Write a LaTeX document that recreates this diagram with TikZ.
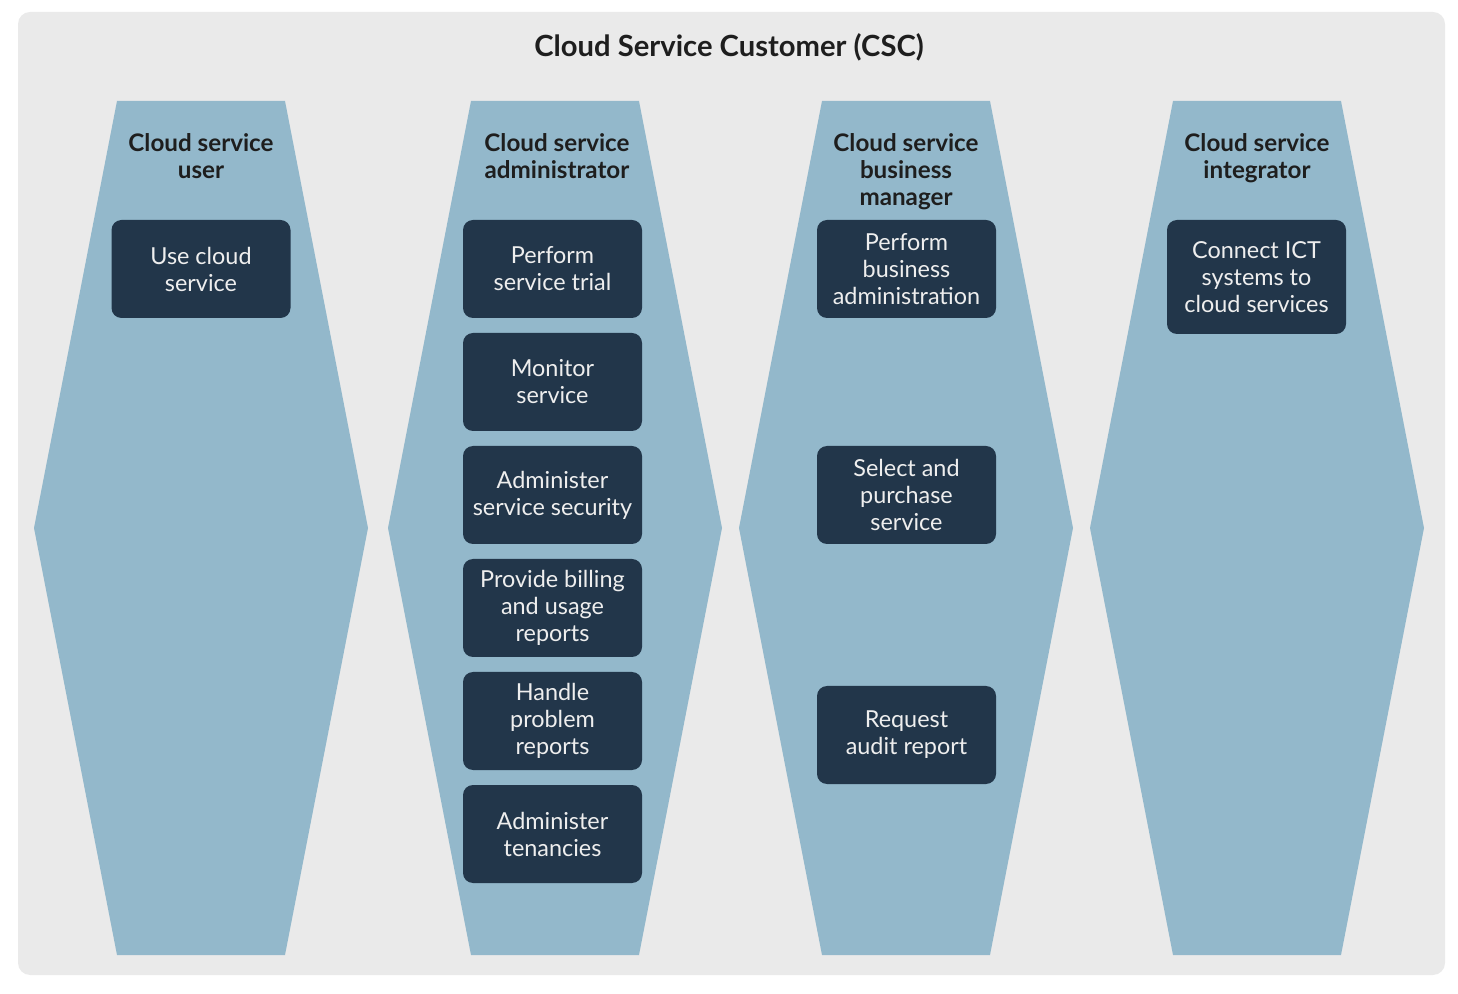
\documentclass[tikz,border=0pt]{standalone}
\usepackage{fontspec}
\setmainfont{Lato}
\usetikzlibrary{positioning}

\definecolor{bgGray}{HTML}{EAEAEA}
\definecolor{hexBlue}{HTML}{93B8CB}
\definecolor{boxNavy}{HTML}{22364A}
\definecolor{boxText}{HTML}{EEEEEE}
\definecolor{headText}{HTML}{1E1E1E}

\begin{document}
\begin{tikzpicture}[x=0.5pt,y=-0.5pt,node distance=56.5pt,on grid]
  % Styles for the role headings and the activity boxes
  \tikzstyle{nodeTitle}=[font=\fontsize{14.6}{17}\selectfont\bfseries,text=headText]
  \tikzstyle{nodeHead}=[anchor=north,align=center,inner sep=0pt,font=\fontsize{12.1}{13.5}\selectfont\bfseries,text=headText]
  \tikzstyle{nodeBox}=[rectangle,rounded corners=5pt,fill=boxNavy,text=boxText,align=center,minimum width=89.5pt,minimum height=49pt,inner sep=2pt,font=\fontsize{11.7}{13.5}\selectfont]

  \useasboundingbox (0,0) rectangle (1458,994);
  \fill[bgGray, rounded corners=6pt] (18,12) rectangle (1445,975);

  % Hexagon columns
  \foreach \cx in {201,555,906,1257}
    \fill[hexBlue] (\cx-84,101) -- (\cx+84,101) -- (\cx+167,528) -- (\cx+84,955)
      -- (\cx-84,955) -- (\cx-167,528) -- cycle;

  \node[nodeTitle] (title) at (729,47) {Cloud Service Customer (CSC)};

  \node[nodeHead] (h_user)  at (201,133)  {Cloud service\\user};
  \node[nodeHead] (h_admin) at (557,133)  {Cloud service\\administrator};
  \node[nodeHead] (h_biz)   at (906,133)  {Cloud service\\business\\manager};
  \node[nodeHead] (h_integ) at (1257,133) {Cloud service\\integrator};

  \node[nodeBox] (b_use) at (201,269) {Use cloud\\service};

  \node[nodeBox] (b_trial)    at (552.5,269)       {Perform\\service trial};
  \node[nodeBox] (b_monitor)  [below=of b_trial]   {Monitor\\service};
  \node[nodeBox] (b_security) [below=of b_monitor] {Administer\\service security};
  \node[nodeBox] (b_billing)  [below=of b_security] {Provide billing\\and usage\\reports};
  \node[nodeBox] (b_problem)  [below=of b_billing] {Handle\\problem\\reports};
  \node[nodeBox] (b_tenancy)  [below=of b_problem] {Administer\\tenancies};

  \node[nodeBox] (b_bizadm)   at (906.5,269) {Perform\\business\\administration};
  \node[nodeBox] (b_purchase) at (906.5,495) {Select and\\purchase\\service};
  \node[nodeBox] (b_audit)    at (906.5,735) {Request\\audit report};

  \node[nodeBox, minimum height=57pt] (b_connect) at (1256.5,277) {Connect ICT\\systems to\\cloud services};
\end{tikzpicture}
\end{document}
